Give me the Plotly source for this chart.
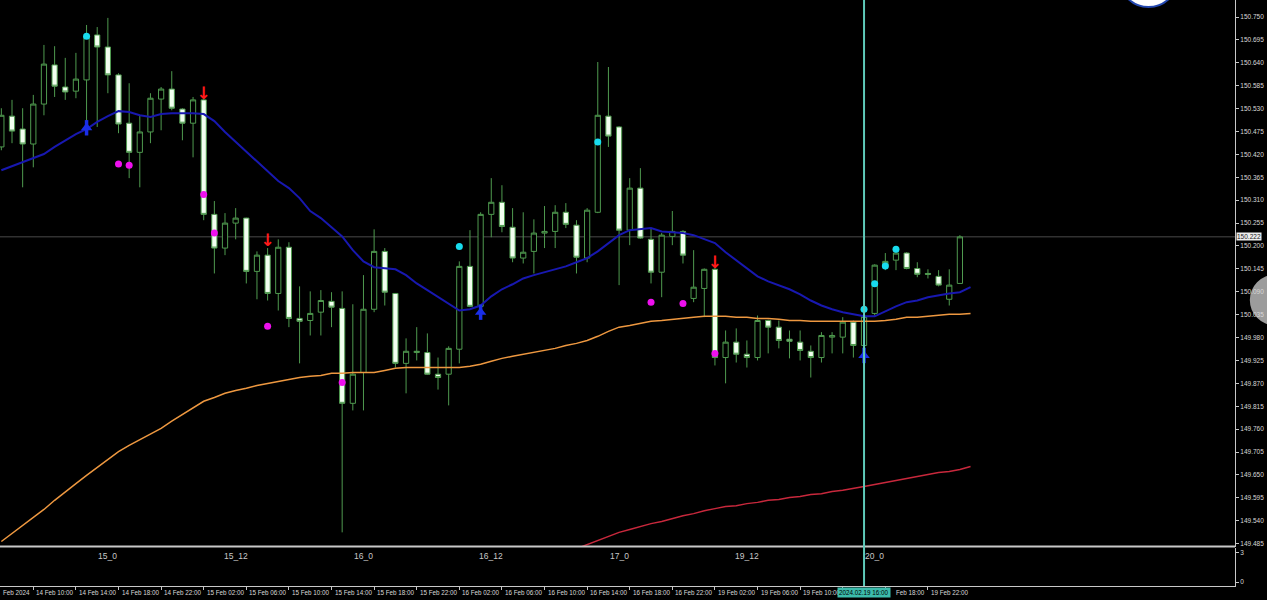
import plotly.graph_objects as go

# ---------------- data ----------------
bars = list(range(1, 92))  # hourly bar index, 4 = 14 Feb 10:00

open_ = [150.438, 150.512, 150.481, 150.445, 150.541, 150.635, 150.582, 150.572, 150.599, 150.707,
         150.678, 150.611, 150.495, 150.425, 150.474, 150.553, 150.577, 150.529, 150.495, 150.551,
         150.276, 150.195, 150.255, 150.267, 150.139, 150.178, 150.086, 150.197, 150.026, 150.021,
         150.041, 150.067, 150.050, 149.822, 149.896, 150.048, 150.187, 150.086, 149.918, 149.944,
         149.944, 149.892, 149.892, 149.952, 150.151, 150.055, 150.276, 150.305, 150.245, 150.171,
         150.187, 150.231, 150.235, 150.281, 150.250, 150.171, 150.281, 150.512, 150.486, 150.238,
         150.339, 150.216, 150.137, 150.223, 150.235, 150.074, 150.098, 150.144, 149.932, 149.969,
         149.940, 149.932, 150.021, 150.005, 149.976, 149.969, 149.947, 149.932, 149.981, 149.981,
         150.017, 149.961, 150.038, 150.149, 150.166, 150.183, 150.146, 150.134, 150.127, 150.072,
         150.110]
high = [150.531, 150.551, 150.531, 150.563, 150.683, 150.680, 150.652, 150.664, 150.731, 150.726,
        150.748, 150.615, 150.591, 150.514, 150.567, 150.582, 150.620, 150.531, 150.558, 150.555,
        150.308, 150.279, 150.291, 150.268, 150.187, 150.195, 150.216, 150.209, 150.103, 150.091,
        150.094, 150.089, 150.091, 150.060, 150.130, 150.240, 150.195, 150.086, 149.978, 150.005,
        149.990, 149.932, 149.959, 150.163, 150.238, 150.281, 150.363, 150.346, 150.291, 150.281,
        150.264, 150.296, 150.298, 150.303, 150.262, 150.291, 150.642, 150.630, 150.488, 150.363,
        150.387, 150.243, 150.231, 150.284, 150.238, 150.190, 150.146, 150.149, 149.997, 150.002,
        149.973, 150.033, 150.023, 150.021, 149.997, 149.997, 149.961, 149.993, 149.993, 150.029,
        150.021, 150.045, 150.156, 150.183, 150.195, 150.185, 150.161, 150.144, 150.142, 150.144,
        150.226]
low = [150.430, 150.447, 150.341, 150.389, 150.514, 150.558, 150.551, 150.555, 150.486, 150.486,
       150.567, 150.471, 150.363, 150.341, 150.447, 150.478, 150.526, 150.454, 150.413, 150.262,
       150.134, 150.178, 150.216, 150.110, 150.072, 150.069, 150.045, 150.005, 149.918, 149.985,
       149.985, 150.005, 149.512, 149.805, 149.805, 150.041, 150.057, 149.908, 149.846, 149.925,
       149.890, 149.855, 149.817, 149.918, 150.053, 150.045, 150.221, 150.233, 150.161, 150.158,
       150.134, 150.195, 150.195, 150.243, 150.134, 150.161, 150.279, 150.438, 150.106, 150.202,
       150.217, 150.110, 150.077, 150.202, 150.158, 150.065, 150.029, 149.913, 149.870, 149.920,
       149.908, 149.925, 149.942, 149.954, 149.930, 149.925, 149.884, 149.920, 149.942, 149.942,
       149.932, 149.944, 150.033, 150.142, 150.142, 150.144, 150.125, 150.122, 150.103, 150.057,
       150.110]
close = [150.514, 150.476, 150.445, 150.541, 150.637, 150.584, 150.570, 150.601, 150.704, 150.678,
         150.611, 150.493, 150.425, 150.474, 150.555, 150.577, 150.531, 150.495, 150.551, 150.276,
         150.195, 150.255, 150.267, 150.139, 150.178, 150.086, 150.197, 150.026, 150.019, 150.038,
         150.069, 150.053, 149.822, 149.892, 150.048, 150.187, 150.089, 149.918, 149.947, 149.947,
         149.892, 149.884, 149.954, 150.151, 150.055, 150.276, 150.305, 150.247, 150.171, 150.185,
         150.231, 150.235, 150.281, 150.252, 150.173, 150.286, 150.514, 150.464, 150.238, 150.339,
         150.219, 150.137, 150.226, 150.235, 150.178, 150.101, 150.144, 149.932, 149.969, 149.940,
         149.932, 150.021, 150.005, 149.973, 149.971, 149.949, 149.932, 149.985, 149.985, 150.017,
         149.961, 150.031, 150.154, 150.163, 150.183, 150.146, 150.132, 150.132, 150.106, 150.106,
         150.222]

ma_bars = list(range(1, 93))
ma_fast = [150.382, 150.392, 150.401, 150.411, 150.421, 150.438, 150.454, 150.469, 150.481, 150.498,
           150.512, 150.524, 150.522, 150.514, 150.510, 150.517, 150.519, 150.519, 150.519, 150.517,
           150.500, 150.474, 150.450, 150.428, 150.404, 150.380, 150.356, 150.339, 150.315, 150.284,
           150.267, 150.245, 150.223, 150.190, 150.163, 150.149, 150.146, 150.144, 150.130, 150.110,
           150.094, 150.077, 150.060, 150.045, 150.048, 150.057, 150.079, 150.096, 150.108, 150.122,
           150.130, 150.137, 150.144, 150.151, 150.161, 150.171, 150.187, 150.207, 150.226, 150.238,
           150.240, 150.243, 150.235, 150.233, 150.231, 150.226, 150.216, 150.207, 150.185, 150.166,
           150.146, 150.127, 150.115, 150.106, 150.096, 150.084, 150.069, 150.057, 150.048, 150.041,
           150.036, 150.031, 150.031, 150.043, 150.055, 150.065, 150.069, 150.077, 150.082, 150.086,
           150.089, 150.101]
ma_mid = [149.490, 149.509, 149.528, 149.548, 149.567, 149.589, 149.610, 149.629, 149.649, 149.668,
          149.687, 149.706, 149.721, 149.735, 149.747, 149.762, 149.779, 149.795, 149.812, 149.827,
          149.836, 149.846, 149.853, 149.858, 149.865, 149.870, 149.875, 149.880, 149.884, 149.887,
          149.889, 149.894, 149.894, 149.896, 149.896, 149.896, 149.901, 149.906, 149.908, 149.908,
          149.908, 149.908, 149.908, 149.908, 149.911, 149.916, 149.923, 149.930, 149.935, 149.940,
          149.944, 149.949, 149.954, 149.961, 149.966, 149.973, 149.983, 149.995, 150.005, 150.009,
          150.014, 150.019, 150.021, 150.024, 150.026, 150.029, 150.031, 150.031, 150.031, 150.029,
          150.029, 150.026, 150.026, 150.024, 150.021, 150.021, 150.019, 150.019, 150.019, 150.019,
          150.019, 150.019, 150.019, 150.021, 150.024, 150.029, 150.029, 150.031, 150.033, 150.036,
          150.036, 150.038]
slow_bars = list(range(54, 93))
ma_slow = [149.463, 149.473, 149.483, 149.492, 149.502, 149.512, 149.519, 149.526, 149.533, 149.538,
           149.545, 149.552, 149.557, 149.564, 149.569, 149.574, 149.576, 149.581, 149.584, 149.589,
           149.591, 149.596, 149.598, 149.603, 149.605, 149.610, 149.613, 149.617, 149.622, 149.627,
           149.632, 149.637, 149.641, 149.646, 149.651, 149.656, 149.658, 149.663, 149.670]

cyan_bars = [9, 44, 57, 82, 83, 84, 85]
cyan_vals = [150.704, 150.199, 150.450, 150.048, 150.109, 150.152, 150.192]
mag_bars = [12, 13, 20, 21, 26, 33, 62, 65, 68]
mag_vals = [150.397, 150.394, 150.324, 150.231, 150.007, 149.872, 150.065, 150.062, 149.942]
sell_bars = [20, 26, 68]
sell_vals = [150.563, 150.209, 150.158]
buy_bars = [9, 46, 82]
buy_vals = [150.484, 150.041, 149.937]

price_ticks = [150.750, 150.695, 150.640, 150.585, 150.530, 150.475, 150.420, 150.365, 150.310,
               150.255, 150.200, 150.145, 150.090, 150.035, 149.980, 149.925, 149.870, 149.815,
               149.760, 149.705, 149.650, 149.595, 149.540, 149.485]
price_labels = ["%.3f" % v for v in price_ticks]

time_ticks = [0, 4, 8, 12, 16, 20, 24, 28, 32, 36, 40, 44, 48, 52, 56, 60, 64, 68, 72, 76, 80, 84, 88]
time_labels = ["Feb 2024", "14 Feb 10:00", "14 Feb 14:00", "14 Feb 18:00", "14 Feb 22:00",
               "15 Feb 02:00", "15 Feb 06:00", "15 Feb 10:00", "15 Feb 14:00", "15 Feb 18:00",
               "15 Feb 22:00", "16 Feb 02:00", "16 Feb 06:00", "16 Feb 10:00", "16 Feb 14:00",
               "16 Feb 18:00", "16 Feb 22:00", "19 Feb 02:00", "19 Feb 06:00", "19 Feb 10:00",
               "", "Feb 18:00", "19 Feb 22:00"]   # partly hidden by the cursor box / left edge
sep_bars = [11, 23, 35, 47, 59, 71, 83]
sep_labels = ["15_0", "15_12", "16_0", "16_12", "17_0", "19_12", "20_0"]

sub_range = [0, 3]  # empty indicator window scale

bid = 150.222
cursor_bar = 82
cursor_label = "2024.02.19 16:00"

# ---------------- figure ----------------
X0, X1 = 0.873, 116.83
Y0, Y1 = 149.478, 150.791
AX = "#c8c8c8"
FONT = "Liberation Sans"

fig = go.Figure()

fig.add_trace(go.Candlestick(
    x=bars, open=open_, high=high, low=low, close=close,
    increasing=dict(line=dict(color="#4f9a4f", width=1), fillcolor="#000000"),
    decreasing=dict(line=dict(color="#4f9a4f", width=1), fillcolor="#f2fff0"),
    whiskerwidth=0, hoverinfo="skip", showlegend=False))

fig.add_trace(go.Scatter(x=slow_bars, y=ma_slow, mode="lines",
                         line=dict(color="#c8283c", width=1.5), hoverinfo="skip", showlegend=False))
fig.add_trace(go.Scatter(x=ma_bars, y=ma_mid, mode="lines",
                         line=dict(color="#ee9840", width=1.5), hoverinfo="skip", showlegend=False))
fig.add_trace(go.Scatter(x=ma_bars, y=ma_fast, mode="lines",
                         line=dict(color="#1818b0", width=2), hoverinfo="skip", showlegend=False))

fig.add_trace(go.Scatter(x=mag_bars, y=mag_vals, mode="markers",
                         marker=dict(color="#ee10ee", size=7), hoverinfo="skip", showlegend=False))
fig.add_trace(go.Scatter(x=cyan_bars, y=cyan_vals, mode="markers",
                         marker=dict(color="#18dcee", size=7), hoverinfo="skip", showlegend=False))
fig.add_trace(go.Scatter(x=sell_bars, y=sell_vals, mode="text", text=["↓"] * len(sell_bars),
                         textfont=dict(color="#ff1a1a", size=17, family="DejaVu Sans", weight="bold"),
                         hoverinfo="skip", showlegend=False))
# buy arrows: thick shaft + filled head
fig.add_trace(go.Scatter(x=buy_bars, y=buy_vals, mode="markers",
                         marker=dict(symbol="line-ns", size=11,
                                     line=dict(color="#1a2ee8", width=3.5)),
                         hoverinfo="skip", showlegend=False))
fig.add_trace(go.Scatter(x=buy_bars, y=buy_vals, mode="markers",
                         marker=dict(symbol="triangle-up", size=10, color="#1a2ee8",
                                     line=dict(width=0)),
                         hoverinfo="skip", showlegend=False))
# empty indicator sub-window (registers the lower panel)
fig.add_trace(go.Scatter(x=[None], y=[None], xaxis="x", yaxis="y2", mode="lines",
                         hoverinfo="skip", showlegend=False))

def px(i):
    return (i - X0) / (X1 - X0)

annotations = []
for t, lab in zip(time_ticks, time_labels):
    if not lab:
        continue
    if t == 0:
        xpos, shift = 0, 1
    else:
        xpos, shift = px(t), (9 if t == 84 else 1)
    annotations.append(dict(x=xpos, y=0, xref="paper", yref="paper", text=lab, showarrow=False,
                            xanchor="left", yanchor="top", xshift=shift, yshift=-1,
                            font=dict(family=FONT, size=6.3, color="#d8d8d8")))
for b, lab in zip(sep_bars, sep_labels):
    annotations.append(dict(x=px(b), y=1, xref="paper", yref="y2 domain", text=lab, showarrow=False,
                            xanchor="center", yanchor="top", yshift=-1,
                            font=dict(family=FONT, size=8.5, color="#c8c8c8")))
annotations.append(dict(x=px(cursor_bar), y=0, xref="paper", yref="paper", text=cursor_label,
                        showarrow=False, xanchor="center", yanchor="top", yshift=-1,
                        bgcolor="#3cbcac", borderpad=1,
                        font=dict(family=FONT, size=6.3, color="#000000")))
annotations.append(dict(x=1, y=bid, xref="paper", yref="y", text="%.3f" % bid, showarrow=False,
                        xanchor="left", yanchor="middle", xshift=1, bgcolor="#ececec", borderpad=0,
                        font=dict(family=FONT, size=6.5, color="#202020")))

shapes = [
    dict(type="line", xref="paper", x0=0, x1=1, yref="y", y0=bid, y1=bid,
         line=dict(color="#4a4a4a", width=1), layer="below"),
    dict(type="line", xref="paper", x0=0, x1=1, yref="y domain", y0=0, y1=0,
         line=dict(color=AX, width=2)),
    dict(type="line", xref="x", x0=cursor_bar, x1=cursor_bar, yref="paper", y0=0, y1=1,
         line=dict(color="#5ec9b9", width=2)),
    dict(type="circle", xref="paper", yref="paper", x0=1.012, x1=1.052, y0=0.445, y1=0.531,
         fillcolor="#9c9c9c", line=dict(width=0), layer="below"),
    dict(type="circle", xref="paper", yref="paper", x0=0.906, x1=0.954, y0=0.988, y1=1.09,
         fillcolor="#ffffff", line=dict(color="#2448b0", width=2)),
]

fig.update_layout(
    width=1267, height=600,
    margin=dict(l=0, r=32, t=0, b=14),
    paper_bgcolor="#000000", plot_bgcolor="#000000",
    font=dict(family=FONT, color="#d8d8d8"),
    showlegend=False, hovermode=False,
    annotations=annotations, shapes=shapes,
    xaxis=dict(domain=[0, 1], range=[X0, X1], anchor="y2", showgrid=False, zeroline=False,
               showline=True, linecolor=AX, linewidth=1, ticks="outside", ticklen=3,
               tickcolor=AX, tickvals=time_ticks, showticklabels=False,
               rangeslider=dict(visible=False), fixedrange=True),
    yaxis=dict(domain=[0.0674, 1], range=[Y0, Y1], side="right", anchor="x", showgrid=False,
               zeroline=False, showline=True, linecolor=AX, linewidth=1, ticks="outside",
               ticklen=3, tickcolor=AX, tickvals=price_ticks, ticktext=price_labels,
               tickfont=dict(family=FONT, size=6.5, color="#d8d8d8"), fixedrange=True),
    yaxis2=dict(domain=[0, 0.0648], range=[-0.4, 3.5], side="right", anchor="x", showgrid=False,
                zeroline=False, showline=True, linecolor=AX, linewidth=1, ticks="outside",
                ticklen=3, tickcolor=AX, tickvals=sub_range,
                ticktext=[str(v) for v in sub_range],
                tickfont=dict(family=FONT, size=6.5, color="#d8d8d8"), fixedrange=True),
)

fig.write_html("out.html", config={"displayModeBar": False},
               post_script="document.body.style.margin='0';document.body.style.overflow='hidden';")
